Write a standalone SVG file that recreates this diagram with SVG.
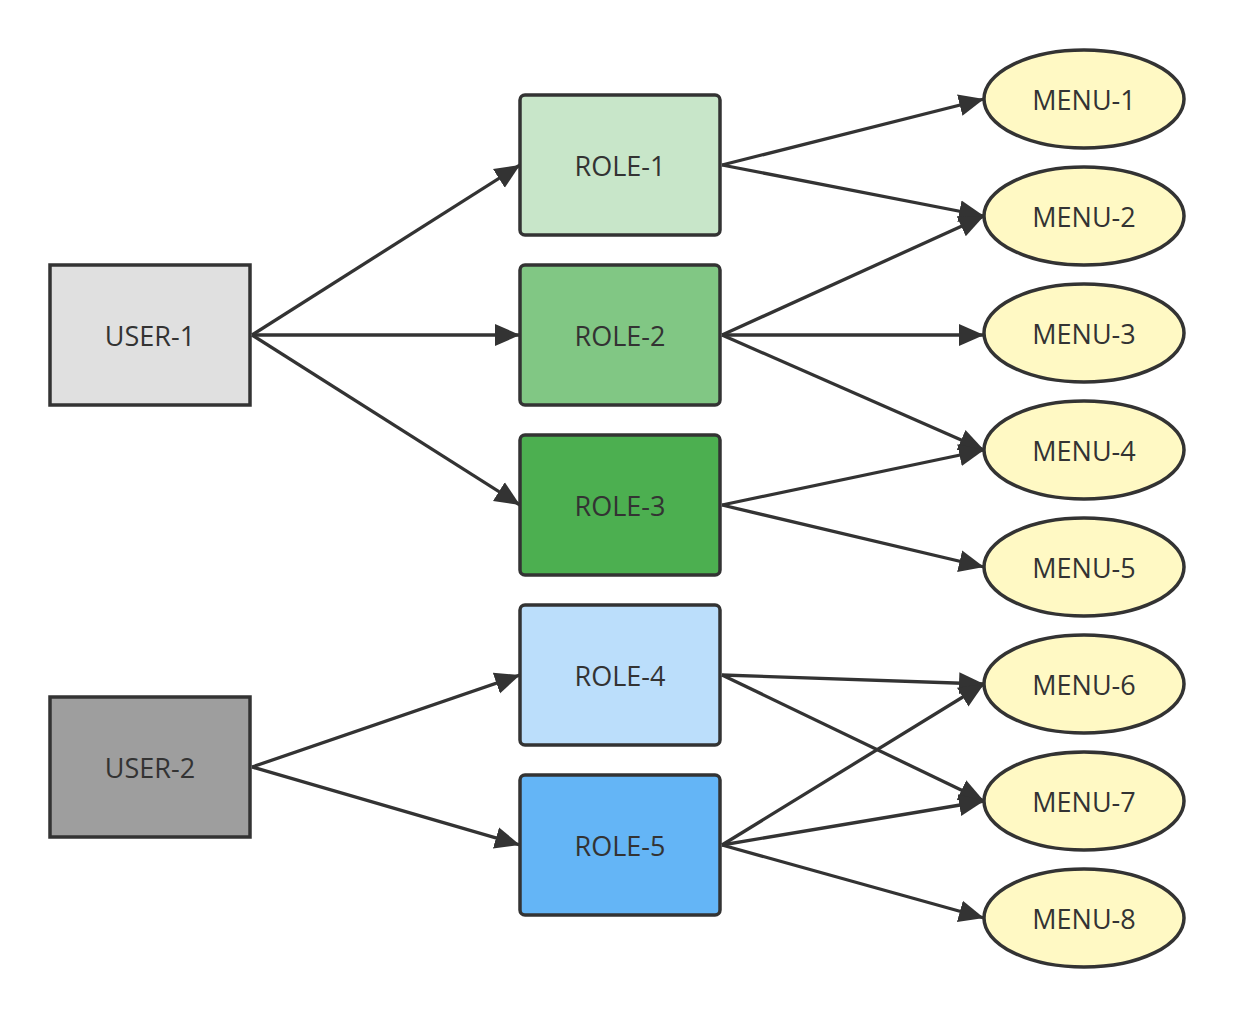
<svg xmlns="http://www.w3.org/2000/svg" width="1234" height="1017" viewBox="0 0 1234 1017">
<defs>
<marker id="arrow" markerUnits="userSpaceOnUse" markerWidth="27" markerHeight="24" refX="25" refY="11" orient="auto" viewBox="0 0 27 22">
<path d="M0,0 L25,11 L0,22 Z" fill="#333333"/>
</marker>
<style>
.user{stroke:#333333;stroke-width:3.5}
.role{stroke:#333333;stroke-width:3.5}
.menu{fill:#fff9c4;stroke:#333333;stroke-width:3.5}
.lbl{font-family:"Open Sans","Noto Sans",sans-serif;font-size:27px;fill:#333333;text-anchor:middle;dominant-baseline:central}
.edge{stroke:#333333;stroke-width:3.3;fill:none;marker-end:url(#arrow)}
</style>
</defs>
<rect width="1234" height="1017" fill="#ffffff"/>
<g id="connectors">
<line class="edge" x1="252" y1="335" x2="520" y2="165"/>
<line class="edge" x1="252" y1="335" x2="520" y2="335"/>
<line class="edge" x1="252" y1="335" x2="520" y2="505"/>
<line class="edge" x1="252" y1="767" x2="520" y2="675"/>
<line class="edge" x1="252" y1="767" x2="520" y2="845"/>
<line class="edge" x1="722" y1="165" x2="984" y2="99"/>
<line class="edge" x1="722" y1="165" x2="984" y2="216"/>
<line class="edge" x1="722" y1="335" x2="984" y2="216"/>
<line class="edge" x1="722" y1="335" x2="984" y2="335"/>
<line class="edge" x1="722" y1="335" x2="984" y2="450"/>
<line class="edge" x1="722" y1="505" x2="984" y2="450"/>
<line class="edge" x1="722" y1="505" x2="984" y2="567"/>
<line class="edge" x1="722" y1="675" x2="984" y2="684"/>
<line class="edge" x1="722" y1="675" x2="984" y2="801"/>
<line class="edge" x1="722" y1="845" x2="984" y2="684"/>
<line class="edge" x1="722" y1="845" x2="984" y2="801"/>
<line class="edge" x1="722" y1="845" x2="984" y2="918"/>
</g>
<g id="user1"><rect class="user" x="50" y="265" width="200" height="140" fill="#e0e0e0"/><text class="lbl" x="150" y="335">USER-1</text></g>
<g id="user2"><rect class="user" x="50" y="697" width="200" height="140" fill="#9e9e9e"/><text class="lbl" x="150" y="767">USER-2</text></g>
<g id="role1"><rect class="role" x="520" y="95" width="200" height="140" rx="5" fill="#c8e6c9"/><text class="lbl" x="620" y="165">ROLE-1</text></g>
<g id="role2"><rect class="role" x="520" y="265" width="200" height="140" rx="5" fill="#81c784"/><text class="lbl" x="620" y="335">ROLE-2</text></g>
<g id="role3"><rect class="role" x="520" y="435" width="200" height="140" rx="5" fill="#4caf50"/><text class="lbl" x="620" y="505">ROLE-3</text></g>
<g id="role4"><rect class="role" x="520" y="605" width="200" height="140" rx="5" fill="#bbdefb"/><text class="lbl" x="620" y="675">ROLE-4</text></g>
<g id="role5"><rect class="role" x="520" y="775" width="200" height="140" rx="5" fill="#64b5f6"/><text class="lbl" x="620" y="845">ROLE-5</text></g>
<g id="menu1"><ellipse class="menu" cx="1084" cy="99" rx="100" ry="49"/><text class="lbl" x="1084" y="99">MENU-1</text></g>
<g id="menu2"><ellipse class="menu" cx="1084" cy="216" rx="100" ry="49"/><text class="lbl" x="1084" y="216">MENU-2</text></g>
<g id="menu3"><ellipse class="menu" cx="1084" cy="333" rx="100" ry="49"/><text class="lbl" x="1084" y="333">MENU-3</text></g>
<g id="menu4"><ellipse class="menu" cx="1084" cy="450" rx="100" ry="49"/><text class="lbl" x="1084" y="450">MENU-4</text></g>
<g id="menu5"><ellipse class="menu" cx="1084" cy="567" rx="100" ry="49"/><text class="lbl" x="1084" y="567">MENU-5</text></g>
<g id="menu6"><ellipse class="menu" cx="1084" cy="684" rx="100" ry="49"/><text class="lbl" x="1084" y="684">MENU-6</text></g>
<g id="menu7"><ellipse class="menu" cx="1084" cy="801" rx="100" ry="49"/><text class="lbl" x="1084" y="801">MENU-7</text></g>
<g id="menu8"><ellipse class="menu" cx="1084" cy="918" rx="100" ry="49"/><text class="lbl" x="1084" y="918">MENU-8</text></g>
</svg>
